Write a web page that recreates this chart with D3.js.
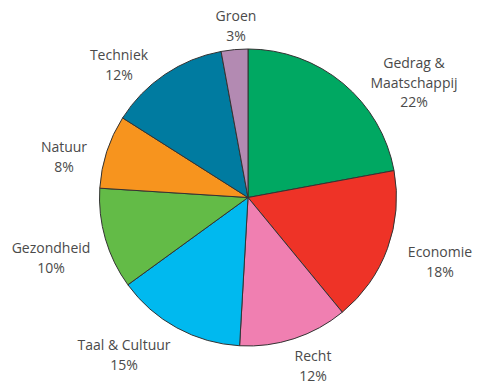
<!DOCTYPE html>
<html><head><meta charset="utf-8">
<script src="https://cdn.jsdelivr.net/npm/d3@7"></script>
<style>html,body{margin:0;padding:0;background:#fff;}</style>
</head><body>
<svg id="chart" width="477" height="383"></svg>
<script>
const categories = ["Gedrag & Maatschappij","Economie","Recht","Taal & Cultuur","Gezondheid","Natuur","Techniek","Groen"];
const labelLines = [["Gedrag &","Maatschappij"],["Economie"],["Recht"],["Taal & Cultuur"],["Gezondheid"],["Natuur"],["Techniek"],["Groen"]];
// slice shares as drawn in the reference
const shares = [22.1, 16.95, 11.85, 14.1, 11.0, 8.0, 13.1, 2.9];
// percentage labels as printed
const pctLabels = ["22%","18%","12%","15%","10%","8%","12%","3%"];
const colors = ["#00a862","#ee3327","#f07fb1","#00b9ef","#63bb47","#f7941e","#007ba0","#b38ab2"];

// layout (label anchor points, chosen to match the reference)
const cx = 248, cy = 197.5, R = 148.5;
const labelPos = [[414,68],[440,257],[313,361],[124,350],[51,253],[64,152],[119,60],[236,21]];
const lineH = 19.5;

const svg = d3.select("#chart");
const g = svg.append("g").attr("transform", `translate(${cx},${cy})`);
const pie = d3.pie().sort(null).value(d => d)(shares);
const arc = d3.arc().innerRadius(0).outerRadius(R);
g.selectAll("path").data(pie).join("path")
  .attr("d", arc)
  .attr("fill", (d,i) => colors[i])
  .attr("stroke", "#333")
  .attr("stroke-width", 1)
  .attr("stroke-linejoin", "round");

const lab = svg.append("g")
  .attr("font-family", "'Open Sans', sans-serif")
  .attr("font-size", 14)
  .attr("fill", "#4a4a4a")
  .attr("text-anchor", "middle");
categories.forEach((c,i) => {
  const lines = labelLines[i].concat([pctLabels[i]]);
  const t = lab.append("text").attr("x", labelPos[i][0]).attr("y", labelPos[i][1]);
  lines.forEach((l,j) => {
    t.append("tspan").attr("x", labelPos[i][0]).attr("dy", j === 0 ? 0 : lineH).text(l);
  });
});
</script>
</body></html>
